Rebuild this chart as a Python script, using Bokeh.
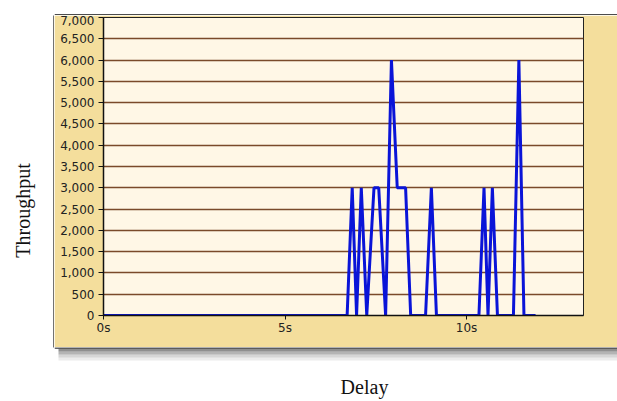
import math
from bokeh.plotting import figure
from bokeh.layouts import row, column
from bokeh.models import Range1d, FixedTicker, NumeralTickFormatter, Label
from bokeh.embed import file_html
from bokeh.resources import INLINE

# Data (delay in seconds, throughput)
delay_s = [0.0, 6.71, 6.85, 6.97, 7.10, 7.25, 7.45, 7.58, 7.77, 7.93, 8.09, 8.32,
           8.46, 8.87, 9.03, 9.17, 10.34, 10.48, 10.59, 10.71, 10.85, 11.29, 11.44,
           11.58, 11.90]
throughput = [0, 0, 3000, 0, 3000, 0, 3000, 3000, 0, 6000, 3000, 3000,
              0, 0, 3000, 0, 0, 3000, 0, 3000, 0, 0, 6000,
              0, 0]
x_ticks = [0, 5, 10]
x_tick_labels = ["0s", "5s", "10s"]
y_ticks = list(range(0, 7001, 500))
y_title = "Throughput"
x_title = "Delay"

TAN = "#F4DE9C"
CREAM = "#FFF7E6"


def blank(w, h, fill="white"):
    f = figure(width=w, height=h, output_backend="svg", toolbar_location=None,
               x_range=Range1d(0, w), y_range=Range1d(0, h),
               x_axis_location=None, y_axis_location=None, min_border=0)
    f.grid.visible = False
    f.outline_line_color = None
    f.border_fill_color = fill
    f.background_fill_color = fill
    return f


# left strip (page x 0..54)
left = blank(54, 401)
left.segment(x0=[53.5], y0=[54], x1=[53.5], y1=[386], line_color="#444444", line_width=1.5)
left.add_layout(Label(x=22, y=191, text=y_title, angle=math.pi / 2,
                      text_align="center", text_baseline="middle",
                      text_font="Liberation Serif", text_font_size="20px", text_color="#111111"))

# top spacer (page y 0..15)
top = blank(563, 15)
top.segment(x0=[0], y0=[0.5], x1=[563], y1=[0.5], line_color="#111111", line_width=1.5)

# main chart (page x 54..617, y 15..347)
p = figure(width=563, height=332, output_backend="svg", toolbar_location=None,
           x_range=Range1d(0, 13.22), y_range=Range1d(0, 7000),
           min_border_left=49, min_border_right=34, min_border_top=2, min_border_bottom=32)
p.border_fill_color = TAN
p.background_fill_color = CREAM
p.outline_line_color = "#222222"
p.outline_line_width = 1

p.xgrid.visible = False
p.ygrid.ticker = FixedTicker(ticks=y_ticks)
p.ygrid.grid_line_color = "#7A4A2A"
p.ygrid.grid_line_width = 1.3

p.line(delay_s, throughput, line_color="#0A14D8", line_width=3)

p.xaxis.ticker = FixedTicker(ticks=x_ticks)
p.xaxis.major_label_overrides = {t: l for t, l in zip(x_ticks, x_tick_labels)}
p.yaxis.ticker = FixedTicker(ticks=y_ticks)
p.yaxis.formatter = NumeralTickFormatter(format="0,0")
for ax in (p.xaxis, p.yaxis):
    ax.axis_line_color = "#111111"
    ax.axis_line_width = 1.5
    ax.major_tick_line_color = "#111111"
    ax.major_tick_in = 0
    ax.minor_tick_line_color = None
    ax.major_label_text_font = "DejaVu Sans"
    ax.major_label_text_font_size = "12px"
    ax.major_label_text_color = "#222222"
p.xaxis.major_tick_out = 4
p.yaxis.major_tick_out = 5
p.xaxis.major_label_standoff = 1
p.yaxis.major_label_standoff = 4

# bottom strip with shadow (page y 347..401)
bottom = blank(563, 54)
bottom.segment(x0=[0], y0=[53.5], x1=[563], y1=[53.5], line_color="#333333", line_width=1.5)
for y_top, a in [(53, 0.6), (50, 0.4), (47, 0.22), (44, 0.1)]:
    bottom.quad(left=[4], right=[563], top=[y_top], bottom=[y_top - 3],
                fill_color="#444444", fill_alpha=a, line_alpha=0)
bottom.add_layout(Label(x=310, y=15, text=x_title,
                        text_align="center", text_baseline="middle",
                        text_font="Liberation Serif", text_font_size="20px", text_color="#111111"))

layout = row(left, column(row(top), p, row(bottom)))
open("out.html", "w").write(file_html(layout, INLINE))
